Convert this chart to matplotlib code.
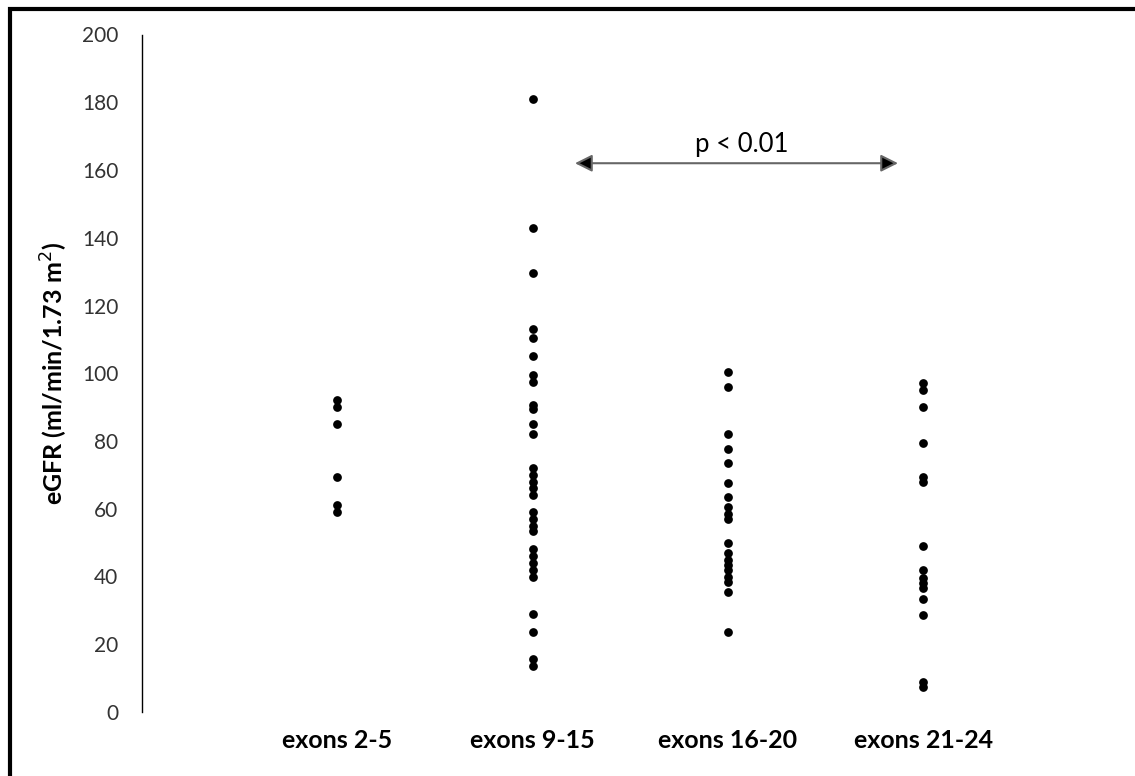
import matplotlib
matplotlib.use('Agg')
import matplotlib.pyplot as plt
from matplotlib.patches import Rectangle

plt.rcParams['font.family'] = ['Lato', 'DejaVu Sans']

# categories and eGFR values
groups = ['exons 2-5', 'exons 9-15', 'exons 16-20', 'exons 21-24']
egfr_2_5 = [92, 90, 85, 69.5, 61, 59]
egfr_9_15 = [181, 143, 129.5, 113, 110.5, 105, 99.5, 97.5, 90.5, 89.5, 85, 82,
             72, 70, 68, 66, 64, 59, 57, 55, 53.5, 48, 46, 44, 42, 40,
             29, 23.5, 15.5, 13.5]
egfr_16_20 = [100.5, 96, 82, 77.5, 73.5, 67.5, 63.5, 60.5, 58.5, 57, 50, 47,
              45, 43.5, 42, 40, 38.5, 35.5, 23.5]
egfr_21_24 = [97, 95, 90, 79.5, 69.5, 68, 49, 42, 39.5, 38, 36.5, 33.5, 28.5,
              9, 7.5]
yticks = list(range(0, 201, 20))
p_text = 'p < 0.01'

fig = plt.figure(figsize=(11.35, 7.76), dpi=100)
ax = fig.add_axes([142 / 1135, 64 / 776, 976.5 / 1135, 677.5 / 776])

all_groups = [egfr_2_5, egfr_9_15, egfr_16_20, egfr_21_24]
for i, vals in enumerate(all_groups):
    ax.plot([i + 1] * len(vals), vals, 'o', color='black', markersize=6.3,
            markeredgewidth=0)

ax.set_xlim(0, 5)
ax.set_ylim(0, 200)
ax.set_yticks(yticks)
ax.set_yticklabels([str(t) for t in yticks], fontsize=15, color='#333333')
ax.set_xticks(range(1, 5))
ax.set_xticklabels(groups, fontsize=18, fontweight='bold')
ax.tick_params(axis='y', length=0, pad=17)
ax.tick_params(axis='x', length=0, pad=12)
for s in ['top', 'right', 'bottom']:
    ax.spines[s].set_visible(False)
ax.spines['left'].set_linewidth(1)

ax.set_ylabel('eGFR (ml/min/1.73 m$^2$)', fontsize=18, fontweight='bold',
              labelpad=9)

# significance arrow
ax.annotate('', xy=(2.217, 162), xytext=(3.871, 162),
            arrowprops=dict(arrowstyle='<|-|>', fc='black', ec='#666666',
                            lw=1.5, mutation_scale=26, shrinkA=0, shrinkB=0))
ax.text(3.07, 167.5, p_text, ha='center', va='center', fontsize=18.5)

# outer frame (only top and left visible in the reference)
fig.patches.append(Rectangle((10 / 1135, -0.1), 1.2, 1 - 9 / 776 + 0.1,
                             transform=fig.transFigure, fill=False,
                             edgecolor='black', linewidth=3, clip_on=False))

fig.savefig('out.png', dpi=100)
